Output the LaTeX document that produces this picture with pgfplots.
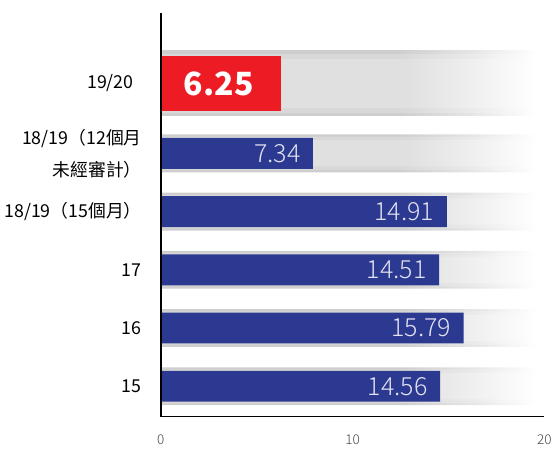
\documentclass[border=0pt]{standalone}
\usepackage{fontspec}
\setmainfont{Noto Sans CJK TC}
\newfontfamily\lightfont{Noto Sans CJK TC}[UprightFont={* Light}]
\usepackage{pgfplots}
\pgfplotsset{compat=1.18}

\definecolor{barblue}{HTML}{2B3990}
\definecolor{barred}{HTML}{ED1C24}
\definecolor{bandA}{HTML}{CECECE}
\definecolor{bandAfade}{HTML}{E4E4E4}
\definecolor{bandB}{HTML}{D8D8D8}
\definecolor{bandBfade}{HTML}{E9E9E9}
\definecolor{bandC}{HTML}{E0E0E0}
\definecolor{bandCfade}{HTML}{EEEEEE}
\definecolor{numtext}{HTML}{E2E2F2}
\definecolor{ticktext}{HTML}{444444}

% grey bands behind the bars, fading out to the right
\pgfdeclarehorizontalshading{bandouter}{100bp}{%
  color(0bp)=(bandA); color(25bp)=(bandA); color(56bp)=(bandA);
  color(65bp)=(bandAfade); color(74bp)=(white); color(100bp)=(white)}
\pgfdeclarehorizontalshading{bandmiddle}{100bp}{%
  color(0bp)=(bandB); color(25bp)=(bandB); color(56bp)=(bandB);
  color(65bp)=(bandBfade); color(74bp)=(white); color(100bp)=(white)}
\pgfdeclarehorizontalshading{bandinner}{100bp}{%
  color(0bp)=(bandC); color(25bp)=(bandC); color(57bp)=(bandC);
  color(65bp)=(bandCfade); color(74bp)=(white); color(100bp)=(white)}

\begin{document}
\begin{tikzpicture}
\begin{axis}[
    name=ax,
    scale only axis,
    width=384pt, height=404pt,
    xmin=0, xmax=20,
    ymin=-0.52, ymax=6.41,
    axis x line=bottom, axis y line=left,
    axis line style={-, line width=1.6pt, black},
    axis on top,
    xtick={0,10,20},
    ytick={0,1,2,3,4,5.2},
    yticklabels={15,16,17,{18/19（15個月）},{18/19（12個月\\未經審計）},{19/20\hspace*{8pt}}},
    major tick length=0pt,
    xticklabel style={font=\lightfont\fontsize{13.5}{13.5}\selectfont, text=ticktext, yshift=-15pt},
    yticklabel style={font=\fontsize{17.8}{32}\selectfont, align=right, inner sep=0pt, xshift=-19pt},
    /pgf/number format/assume math mode=true,
    clip=false,
    ]
% background bands
\addplot[xbar, bar shift=0pt, bar width=0.65, draw=none, shading=bandouter]
    coordinates {(20,0) (20,1) (20,2) (20,3) (20,4)};
\addplot[xbar, bar shift=0pt, bar width=0.57, draw=none, shading=bandmiddle]
    coordinates {(20,0) (20,1) (20,2) (20,3) (20,4)};
\addplot[xbar, bar shift=0pt, bar width=0.45, draw=none, shading=bandinner]
    coordinates {(20,0) (20,1) (20,2) (20,3) (20,4)};
\addplot[xbar, bar shift=0pt, bar width=1.115, draw=none, shading=bandouter]
    coordinates {(20,5.2)};
\addplot[xbar, bar shift=0pt, bar width=1.0, draw=none, shading=bandmiddle]
    coordinates {(20,5.2)};
\addplot[xbar, bar shift=0pt, bar width=0.82, draw=none, shading=bandinner]
    coordinates {(20,5.2)};
% values
\addplot[xbar, bar shift=0pt, bar width=0.53, fill=barblue, draw=none,
    point meta=explicit symbolic, nodes near coords,
    nodes near coords style={anchor=east, xshift=-9pt, text=numtext,
        font=\lightfont\fontsize{25}{25}\selectfont}]
    coordinates {(14.56,0) [14.56] (15.79,1) [15.79] (14.51,2) [14.51]
                 (14.91,3) [14.91] (7.93,4) [7.34]};
\addplot[xbar, bar shift=0pt, bar width=0.93, fill=barred, draw=none,
    point meta=explicit symbolic, nodes near coords,
    nodes near coords style={anchor=center, xshift=-62pt, text=white,
        font=\bfseries\fontsize{32}{32}\selectfont}]
    coordinates {(6.25,5.2) [6.25]};
\end{axis}
\path ([xshift=-161pt,yshift=-33pt]ax.south west) rectangle ([xshift=10pt,yshift=13pt]ax.north east);
\end{tikzpicture}
\end{document}
